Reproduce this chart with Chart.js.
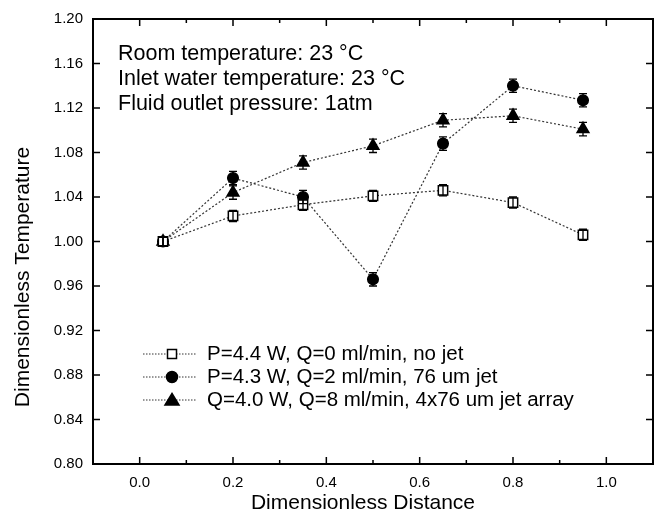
<!DOCTYPE html>
<html>
<head>
<meta charset="utf-8">
<script src="https://cdn.jsdelivr.net/npm/chart.js"></script>
<style>
  html, body { margin: 0; padding: 0; background: #fff; }
  #wrap { width: 665px; height: 518px; }
</style>
</head>
<body>
<div id="wrap"><canvas id="tempChart" width="665" height="518"></canvas></div>
<script>
  // data
  const distance = [0.05, 0.2, 0.35, 0.5, 0.65, 0.8, 0.95];
  const noJet = [1.000, 1.023, 1.033, 1.041, 1.046, 1.035, 1.006];
  const singleJet = [1.000, 1.057, 1.040, 0.966, 1.088, 1.140, 1.127];
  const jetArray = [1.000, 1.044, 1.071, 1.086, 1.109, 1.113, 1.101];
  const noJetErr = [0.004, 0.005, 0.005, 0.005, 0.005, 0.005, 0.005];
  const singleJetErr = [0.004, 0.006, 0.006, 0.006, 0.006, 0.006, 0.006];
  const jetArrayErr = [0.004, 0.006, 0.006, 0.006, 0.006, 0.006, 0.006];
  const seriesLabels = [
    'P=4.4 W, Q=0 ml/min, no jet',
    'P=4.3 W, Q=2 ml/min, 76 um jet',
    'Q=4.0 W, Q=8 ml/min, 4x76 um jet array'
  ];
  const noteLines = [
    'Room temperature: 23 °C',
    'Inlet water temperature: 23 °C',
    'Fluid outlet pressure: 1atm'
  ];
  const xTitle = 'Dimensionless Distance';
  const yTitle = 'Dimensionless Temperature';
  const xMin = -0.1, xMax = 1.1, xStep = 0.1;
  const yMin = 0.80, yMax = 1.20, yStep = 0.04;

  const FONT = '"Liberation Sans", Arial, sans-serif';

  function toPoints(xs, ys) {
    return xs.map((x, i) => ({ x: x, y: ys[i] }));
  }

  function makeSet(label, ys, errs, style, radius, fill) {
    return {
      label: label,
      data: toPoints(distance, ys),
      errors: errs,
      showLine: true,
      borderColor: '#333',
      borderWidth: 1.2,
      borderDash: [2, 2],
      pointStyle: style,
      pointRadius: radius,
      pointHoverRadius: radius,
      pointBackgroundColor: fill,
      pointBorderColor: '#000',
      pointBorderWidth: 1.5,
      fill: false,
      tension: 0
    };
  }

  // error bars with caps
  const errorBars = {
    id: 'errorBars',
    afterDatasetsDraw(chart) {
      const ctx = chart.ctx;
      const ys = chart.scales.y;
      ctx.save();
      ctx.strokeStyle = '#000';
      ctx.lineWidth = 1.3;
      chart.data.datasets.forEach((ds, i) => {
        const meta = chart.getDatasetMeta(i);
        meta.data.forEach((pt, j) => {
          const v = ds.data[j].y, e = ds.errors[j];
          const top = ys.getPixelForValue(v + e);
          const bot = ys.getPixelForValue(v - e);
          ctx.beginPath();
          ctx.moveTo(pt.x, top); ctx.lineTo(pt.x, bot);
          ctx.moveTo(pt.x - 4, top); ctx.lineTo(pt.x + 4, top);
          ctx.moveTo(pt.x - 4, bot); ctx.lineTo(pt.x + 4, bot);
          ctx.stroke();
        });
      });
      ctx.restore();
    }
  };

  // frame with inward ticks on all four sides
  const frame = {
    id: 'frame',
    afterDraw(chart) {
      const ctx = chart.ctx;
      const a = chart.chartArea;
      const xs = chart.scales.x, ys = chart.scales.y;
      ctx.save();
      ctx.strokeStyle = '#000';
      ctx.lineWidth = 2;
      ctx.strokeRect(a.left, a.top, a.right - a.left, a.bottom - a.top);
      ctx.lineWidth = 1.5;
      ctx.beginPath();
      xs.ticks.forEach(t => {
        const px = xs.getPixelForValue(t.value);
        const major = Math.round(t.value * 10) % 2 === 0;
        const len = major ? 7 : 4;
        ctx.moveTo(px, a.bottom); ctx.lineTo(px, a.bottom - len);
        ctx.moveTo(px, a.top); ctx.lineTo(px, a.top + len);
      });
      ys.ticks.forEach(t => {
        const py = ys.getPixelForValue(t.value);
        ctx.moveTo(a.left, py); ctx.lineTo(a.left + 7, py);
        ctx.moveTo(a.right, py); ctx.lineTo(a.right - 7, py);
      });
      ctx.stroke();

      // axis titles (the y title sits a little below centre in the original)
      ctx.fillStyle = '#000';
      ctx.font = '21px ' + FONT;
      ctx.textAlign = 'center';
      ctx.textBaseline = 'middle';
      ctx.fillText(xTitle, a.left + 270, 503);
      ctx.save();
      ctx.translate(23, a.top + 258);
      ctx.rotate(-Math.PI / 2);
      ctx.fillText(yTitle, 0, 0);
      ctx.restore();
      ctx.restore();
    }
  };

  // conditions text + legend inside the plot
  const notes = {
    id: 'notes',
    afterDraw(chart) {
      const ctx = chart.ctx;
      const a = chart.chartArea;
      ctx.save();
      ctx.fillStyle = '#000';
      ctx.font = '21.5px ' + FONT;
      ctx.textBaseline = 'middle';
      noteLines.forEach((s, i) => ctx.fillText(s, a.left + 25, a.top + 35 + i * 25));

      ctx.font = '20.5px ' + FONT;
      chart.data.datasets.forEach((ds, i) => {
        const y = a.top + 335 + i * 23;
        const x0 = a.left + 50, x1 = a.left + 104, xm = a.left + 79;
        ctx.strokeStyle = '#333';
        ctx.lineWidth = 1;
        ctx.setLineDash([1.5, 1.5]);
        ctx.beginPath();
        ctx.moveTo(x0, y); ctx.lineTo(x1, y);
        ctx.stroke();
        ctx.setLineDash([]);
        ctx.strokeStyle = '#000';
        ctx.lineWidth = 1.5;
        ctx.fillStyle = ds.pointBackgroundColor;
        ctx.beginPath();
        if (ds.pointStyle === 'rect') {
          ctx.rect(xm - 4.5, y - 4.5, 9, 9);
        } else if (ds.pointStyle === 'circle') {
          ctx.arc(xm, y, 5.5, 0, Math.PI * 2);
        } else {
          ctx.moveTo(xm, y - 6.5); ctx.lineTo(xm + 7, y + 5); ctx.lineTo(xm - 7, y + 5); ctx.closePath();
        }
        ctx.fill();
        ctx.stroke();
        ctx.fillStyle = '#000';
        ctx.fillText(ds.label, a.left + 114, y);
      });
      ctx.restore();
    }
  };

  function createChart() {
    const ctx = document.getElementById('tempChart').getContext('2d');
    new Chart(ctx, {
      type: 'scatter',
      data: {
        datasets: [
          makeSet(seriesLabels[0], noJet, noJetErr, 'rect', 6.6, '#fff'),
          makeSet(seriesLabels[1], singleJet, singleJetErr, 'circle', 5.3, '#000'),
          makeSet(seriesLabels[2], jetArray, jetArrayErr, 'triangle', 6.8, '#000')
        ]
      },
      options: {
        responsive: false,
        animation: false,
        layout: { padding: { top: 14, right: 12, left: 0, bottom: 0 } },
        plugins: { legend: { display: false }, tooltip: { enabled: false } },
        scales: {
          x: {
            type: 'linear',
            min: xMin, max: xMax,
            afterFit(scale) { scale.height = 54; },
            ticks: {
              stepSize: xStep,
              padding: 10,
              color: '#000',
              font: { family: FONT, size: 15 },
              callback: v => (Math.round(v * 10) % 2 === 0 ? v.toFixed(1) : '')
            },
            grid: { display: false, drawTicks: false },
            border: { display: false }
          },
          y: {
            min: yMin, max: yMax,
            afterFit(scale) { scale.width = 93; },
            ticks: {
              stepSize: yStep,
              padding: 10,
              color: '#000',
              font: { family: FONT, size: 15 },
              callback: v => v.toFixed(2)
            },
            grid: { display: false, drawTicks: false },
            border: { display: false }
          }
        }
      },
      plugins: [errorBars, frame, notes]
    });
  }

  window.onload = function () {
    createChart();
  };
</script>
</body>
</html>
